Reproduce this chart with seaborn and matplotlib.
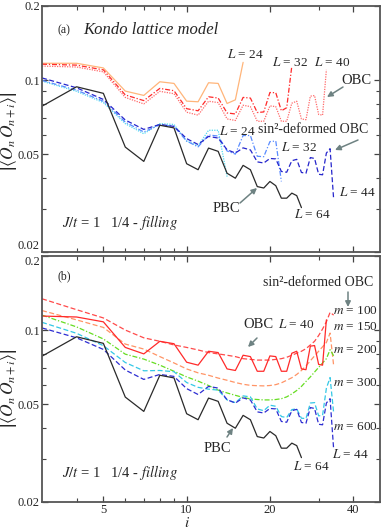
import numpy as np
import pandas as pd
import seaborn as sns
import matplotlib.pyplot as plt
from matplotlib.ticker import NullFormatter

# --- data ---
i_pbc = list(range(3, 27))
pbc_64 = [0.0783, 0.0939, 0.0883, 0.0534, 0.0467, 0.0655, 0.0639, 0.0457, 0.0432, 0.0529,
          0.0513, 0.0418, 0.0399, 0.0450, 0.0432, 0.0369, 0.0364, 0.0387, 0.0372, 0.0331,
          0.0331, 0.0347, 0.0339, 0.0303]

i_obc24 = list(range(3, 17))
obc_24 = [0.117, 0.117, 0.112, 0.0902, 0.0866, 0.0984, 0.0969, 0.0821, 0.0816, 0.0975,
          0.0969, 0.0803, 0.0831, 0.118]

i_obc32 = list(range(3, 25))
obc_32 = [0.116, 0.115, 0.110, 0.087, 0.0825, 0.0925, 0.0905, 0.0765, 0.0750, 0.0855,
          0.0845, 0.0735, 0.0728, 0.0850, 0.0845, 0.0738, 0.0742, 0.0890, 0.0888, 0.0750,
          0.0772, 0.114]

i_obc40 = list(range(3, 33))
obc_40 = [0.114, 0.113, 0.108, 0.085, 0.080, 0.090, 0.088, 0.074, 0.072, 0.082,
          0.081, 0.0695, 0.0685, 0.079, 0.078, 0.068, 0.068, 0.0785, 0.078, 0.068,
          0.068, 0.0805, 0.082, 0.0695, 0.069, 0.086, 0.0865, 0.0725, 0.072, 0.110]

i_sin24 = list(range(3, 15))
sin_24 = [0.0990, 0.0900, 0.0810, 0.0665, 0.0605, 0.0665, 0.0660, 0.0565, 0.0540, 0.0625,
          0.0625, 0.0405]

i_sin32 = list(range(3, 23))
sin_32 = [0.0997, 0.0910, 0.0820, 0.0675, 0.0615, 0.0658, 0.0648, 0.0565, 0.0535, 0.0598,
          0.0592, 0.0515, 0.0500, 0.0595, 0.0595, 0.0490, 0.0488, 0.0562, 0.0565, 0.0387]

i_sin44 = list(range(3, 35))
m600 = [0.102, 0.093, 0.0834, 0.0688, 0.063, 0.066, 0.0648, 0.0578, 0.0547, 0.059,
        0.0581, 0.0521, 0.0505, 0.053, 0.052, 0.0465, 0.046, 0.048, 0.0478, 0.0425,
        0.0422, 0.0470, 0.0476, 0.0421, 0.0418, 0.0484, 0.0480, 0.0414, 0.0412, 0.0505,
        0.0526, 0.0327]
m300 = [0.1075, 0.097, 0.0864, 0.0738, 0.0683, 0.0685, 0.0677, 0.0612, 0.0585, 0.0575,
        0.057, 0.052, 0.0507, 0.054, 0.0535, 0.0478, 0.047, 0.0495, 0.049, 0.0445,
        0.0441, 0.0475, 0.0478, 0.0438, 0.0437, 0.0505, 0.0507, 0.0448, 0.0450, 0.058,
        0.0641, 0.046]
m200 = [0.115, 0.103, 0.092, 0.0798, 0.0762, 0.072, 0.068, 0.0645, 0.062, 0.0595,
        0.057, 0.0555, 0.0543, 0.0532, 0.0525, 0.0522, 0.052, 0.052, 0.0522, 0.0526,
        0.0535, 0.055, 0.0568, 0.059, 0.0618, 0.0645, 0.0675, 0.0705, 0.0735, 0.0765,
        0.0832, 0.0786]
m150 = [0.120, 0.110, 0.1025, 0.0877, 0.0837, 0.078, 0.0735, 0.0695, 0.067, 0.0655,
        0.0638, 0.0625, 0.0612, 0.0602, 0.0596, 0.0594, 0.0593, 0.0595, 0.0600, 0.0610,
        0.0625, 0.0640, 0.0660, 0.0685, 0.0715, 0.0750, 0.0785, 0.0820, 0.0855, 0.0890,
        0.0972, 0.0716]
m100 = [0.134, 0.121, 0.112, 0.100, 0.093, 0.090, 0.087, 0.085, 0.083, 0.081,
        0.080, 0.079, 0.078, 0.0765, 0.076, 0.0755, 0.0755, 0.0755, 0.076, 0.0765,
        0.0775, 0.079, 0.0805, 0.082, 0.084, 0.087, 0.090, 0.095, 0.101, 0.108,
        0.118, 0.115]

# --- style ---
sns.set_theme(style='ticks')
plt.rcParams['font.family'] = ['Liberation Serif', 'DejaVu Serif']
plt.rcParams['mathtext.fontset'] = 'stix'

W, H = 382, 530
fig = plt.figure(figsize=(W / 100, H / 100), dpi=100)


def fx(x):
    return x / W


def fy(y):
    return 1 - y / H


ax1 = fig.add_axes([fx(42), fy(252), fx(380) - fx(42), fy(6) - fy(252)])
ax2 = fig.add_axes([fx(42), fy(502), fx(380) - fx(42), fy(256) - fy(502)])

lw = 0.9
dash = (0, (4, 2))
dot = (0, (1, 1))
dashdot = (0, (4, 1.5, 1, 1.5))

# panel (a)
sns.lineplot(x=i_obc24, y=obc_24, ax=ax1, color='#ffb57a', lw=lw)
sns.lineplot(x=i_obc32, y=obc_32, ax=ax1, color='#ff2a2a', lw=lw, linestyle=dashdot)
sns.lineplot(x=i_obc40, y=obc_40, ax=ax1, color='#ff6a6a', lw=lw, linestyle=dot)
sns.lineplot(x=i_sin24, y=sin_24, ax=ax1, color='#50d8f0', lw=lw, linestyle=dot)
sns.lineplot(x=i_sin32, y=sin_32, ax=ax1, color='#5a8cff', lw=lw, linestyle=dashdot)
sns.lineplot(x=i_sin44, y=m600, ax=ax1, color='#2525cc', lw=lw, linestyle=dash)
sns.lineplot(x=i_pbc, y=pbc_64, ax=ax1, color='#2a2a2a', lw=lw)

# panel (b)
sns.lineplot(x=i_sin44, y=m100, ax=ax2, color='#ff4a4a', lw=lw, linestyle=dash)
sns.lineplot(x=i_sin44, y=m150, ax=ax2, color='#ff9466', lw=lw, linestyle=dash)
sns.lineplot(x=i_sin44, y=m200, ax=ax2, color='#66dd22', lw=lw, linestyle=dashdot)
sns.lineplot(x=i_sin44, y=m300, ax=ax2, color='#33c8e6', lw=lw, linestyle=dash)
sns.lineplot(x=i_sin44, y=m600, ax=ax2, color='#2d2dd2', lw=lw, linestyle=dash)
sns.lineplot(x=i_obc40, y=obc_40, ax=ax2, color='#ff2a2a', lw=lw)
sns.lineplot(x=i_pbc, y=pbc_64, ax=ax2, color='#2a2a2a', lw=lw)

for ax in (ax1, ax2):
    ax.set_xscale('log')
    ax.set_yscale('log')
    ax.set_xlim(3, 50)
    ax.set_ylim(0.02, 0.2)
    ax.set_xticks([5, 10, 20, 40])
    ax.set_xticklabels(['5', '10', '20', '40'])
    ax.set_xticks([4, 6, 7, 8, 9, 30], minor=True)
    ax.xaxis.set_minor_formatter(NullFormatter())
    ax.set_yticks([0.02, 0.05, 0.1, 0.2])
    ax.set_yticklabels(['0.02', '0.05', '0.1', '0.2'])
    ax.set_yticks([0.03, 0.04, 0.06, 0.07, 0.08, 0.09], minor=True)
    ax.yaxis.set_minor_formatter(NullFormatter())
    ax.tick_params(which='both', direction='in', top=True, right=True,
                   color='#444444', labelsize=9, pad=1.5)
    ax.tick_params(which='major', length=4, width=0.9)
    ax.tick_params(which='minor', length=3, width=0.8)
    for s in ax.spines.values():
        s.set_color('#555555')
        s.set_linewidth(1.3)
    ax.set_xlabel('')
    ax.set_ylabel('')

ax1.tick_params(labelbottom=False)
# keep the 0.02 / 0.2 labels at the panel junction apart
ax1.get_yticklabels()[0].set_va('bottom')
ax2.get_yticklabels()[-1].set_va('top')

ylab = r'$\left|\left\langle O_n\, O_{n+i}\right\rangle\right|$'
fig.text(fx(9), fy(131), ylab, rotation=90, ha='center', va='center', fontsize=12.5)
fig.text(fx(9), fy(388), ylab, rotation=90, ha='center', va='center', fontsize=12.5)
fig.text(fx(187), fy(523), r'$i$', ha='center', va='center', fontsize=11)

arrow_c = '#6e8282'


def label(x, y, s, size=9.5, **kw):
    fig.text(fx(x), fy(y), s, ha='left', va='center', fontsize=size, **kw)


def arrow(x0, y0, x1, y1):
    fig.add_artist(plt.Annotation('', xy=(fx(x1), fy(y1)), xytext=(fx(x0), fy(y0)),
                                  xycoords='figure fraction', textcoords='figure fraction',
                                  arrowprops=dict(arrowstyle='-|>', color=arrow_c, lw=1.1,
                                                  mutation_scale=8, shrinkA=0, shrinkB=0)))


# panel (a) texts
label(58, 30, '(a)', size=8.5)
label(83, 30, 'Kondo lattice model', size=12, fontstyle='italic')
label(227, 54, r'$L$ = 24')
label(272, 62, r'$L$ = 32')
label(314, 62, r'$L$ = 40')
label(341, 81, 'OBC', size=10.5)
arrow(343, 87, 327, 97)
label(219, 132, r'$L$ = 24')
label(258, 130, 'sin²-deformed OBC', size=10)
label(281, 148, r'$L$ = 32')
arrow(358, 140, 335, 150)
label(339, 193, r'$L$ = 44')
label(213, 208, 'PBC', size=10.5)
arrow(240, 203, 257, 188)
label(294, 214, r'$L$ = 64')
label(62, 222, r'$J/t$ = 1   1/4 - $\mathit{filling}$', size=10.5)

# panel (b) texts
label(58, 276, '(b)', size=8.5)
label(263, 282, 'sin²-deformed OBC', size=10)
arrow(348, 292, 348, 307)
label(333, 311, r'$m$ = 100')
label(333, 327, r'$m$ = 150')
label(333, 350, r'$m$ = 200')
label(333, 383, r'$m$ = 300')
label(333, 427, r'$m$ = 600')
label(243, 324, 'OBC', size=10.5)
label(278, 324, r'$L$ = 40')
arrow(257, 338, 248, 347)
label(204, 449, 'PBC', size=10.5)
arrow(227, 437, 233, 428)
label(293, 466, r'$L$ = 64')
label(332, 455, r'$L$ = 44')
label(62, 472, r'$J/t$ = 1   1/4 - $\mathit{filling}$', size=10.5)

fig.savefig('out.png', dpi=100)
